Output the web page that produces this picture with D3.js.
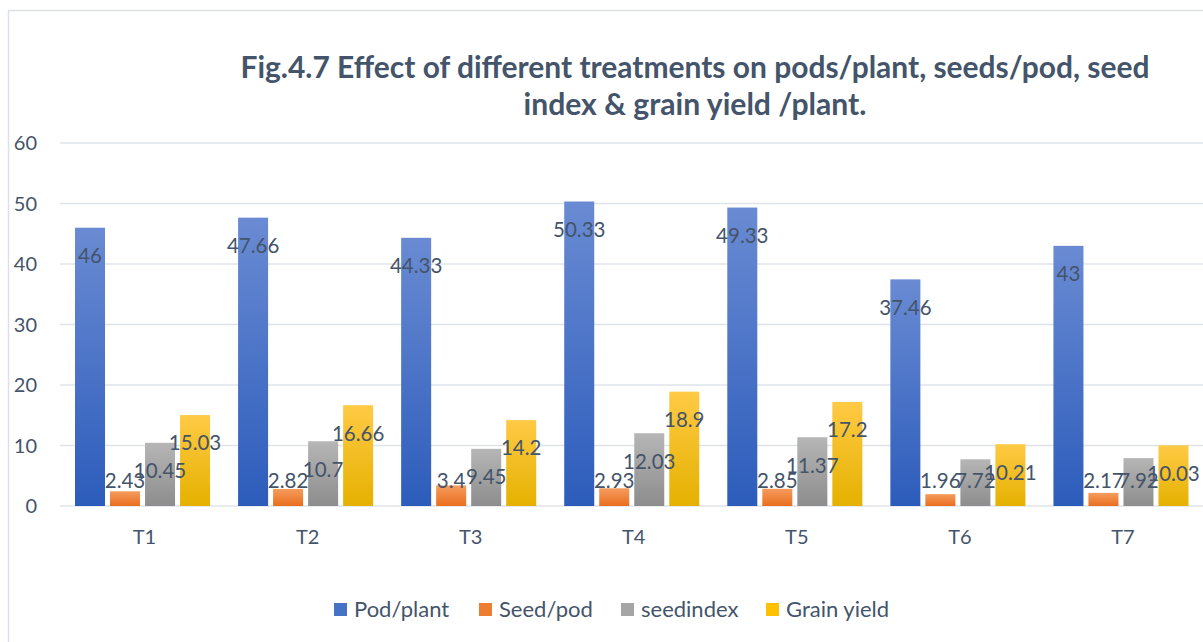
<!DOCTYPE html>
<html>
<head>
<meta charset="utf-8">
<script src="https://cdn.jsdelivr.net/npm/d3@7"></script>
<style>
  body { margin: 0; background: #fff; }
  svg { display: block; font-family: Lato, "Open Sans", sans-serif; }
</style>
</head>
<body>
<div id="chart"></div>
<script>
// data
var treatments = ['T1', 'T2', 'T3', 'T4', 'T5', 'T6', 'T7'];
var seriesNames = ['Pod/plant', 'Seed/pod', 'seedindex', 'Grain yield'];
var podPlant = [46, 47.66, 44.33, 50.33, 49.33, 37.46, 43];
var seedPod = [2.43, 2.82, 3.4, 2.93, 2.85, 1.96, 2.17];
var seedIndex = [10.45, 10.7, 9.45, 12.03, 11.37, 7.72, 7.92];
var grainYield = [15.03, 16.66, 14.2, 18.9, 17.2, 10.21, 10.03];
var yTicks = [0, 10, 20, 30, 40, 50, 60];

var width = 1203, height = 642;
var textColor = '#44546A';
// top / bottom colours of each bar gradient
var colors = [
  ['#6a8bd3', '#2c5cbb'],
  ['#f59c5e', '#e96e1e'],
  ['#b6b6b6', '#8d8d8d'],
  ['#ffca45', '#e5b100']
];
var legendColors = ['#4472c4', '#ed7d31', '#a5a5a5', '#ffc000'];

var allSeries = [podPlant, seedPod, seedIndex, grainYield];

var svg = d3.select('#chart').append('svg')
  .attr('width', width).attr('height', height);

var defs = svg.append('defs');
colors.forEach(function(c, i) {
  var g = defs.append('linearGradient').attr('id', 'grad' + i)
    .attr('x1', 0).attr('y1', 0).attr('x2', 0).attr('y2', 1);
  g.append('stop').attr('offset', '0%').attr('stop-color', c[0]);
  g.append('stop').attr('offset', '100%').attr('stop-color', c[1]);
});

// chart frame
svg.append('rect')
  .attr('x', 8.5).attr('y', 10.5).attr('width', 1300).attr('height', 700)
  .attr('fill', 'none').attr('stroke', '#dde1e6').attr('stroke-width', 1.5);

var x = d3.scaleBand().domain(treatments).range([61, 1202.5])
  .paddingInner(28 / 163).paddingOuter(14 / 163);
var xs = d3.scaleBand().domain(d3.range(seriesNames.length))
  .range([0, x.bandwidth()]).paddingInner(5 / 35);
var y = d3.scaleLinear().domain([0, 60]).range([506, 143]);

// gridlines
svg.append('g').selectAll('line').data(yTicks).enter().append('line')
  .attr('x1', 60).attr('x2', width)
  .attr('y1', function(d) { return y(d); })
  .attr('y2', function(d) { return y(d); })
  .attr('stroke', '#dfe3e8').attr('stroke-width', 1.5);

// y labels
svg.append('g').selectAll('text').data(yTicks).enter().append('text')
  .attr('x', 37).attr('y', function(d) { return y(d); })
  .attr('dy', '0.36em').attr('text-anchor', 'end')
  .attr('font-size', 20).attr('fill', textColor)
  .text(function(d) { return d; });

// x labels
svg.append('g').selectAll('text').data(treatments).enter().append('text')
  .attr('x', function(d) { return x(d) + x.bandwidth() / 2 + 2; })
  .attr('y', 544).attr('text-anchor', 'middle')
  .attr('font-size', 20).attr('fill', textColor)
  .text(function(d) { return d; });

// bars
var groups = svg.append('g').selectAll('g').data(treatments).enter().append('g')
  .attr('transform', function(d) { return 'translate(' + x(d) + ',0)'; });

groups.selectAll('rect').data(function(d, i) {
  return allSeries.map(function(s, k) { return { k: k, v: s[i] }; });
}).enter().append('rect')
  .attr('x', function(d) { return xs(d.k); })
  .attr('y', function(d) { return y(d.v); })
  .attr('width', xs.bandwidth())
  .attr('height', function(d) { return y(0) - y(d.v); })
  .attr('fill', function(d) { return 'url(#grad' + d.k + ')'; });

// data labels, inside end
groups.selectAll('text').data(function(d, i) {
  return allSeries.map(function(s, k) { return { k: k, v: s[i] }; });
}).enter().append('text')
  .attr('x', function(d) { return xs(d.k) + xs.bandwidth() / 2; })
  .attr('y', function(d) { return Math.min(y(d.v) + 28, 481); })
  .attr('dy', '0.36em').attr('text-anchor', 'middle')
  .attr('font-size', 20.5).attr('fill', textColor)
  .text(function(d) { return d.v; });

// title
var title = svg.append('g').attr('fill', textColor)
  .attr('font-weight', 'bold').attr('font-size', 29.5).attr('text-anchor', 'middle');
title.append('text').attr('x', 695).attr('y', 78)
  .attr('textLength', 909).attr('lengthAdjust', 'spacingAndGlyphs')
  .text('Fig.4.7 Effect of different treatments on pods/plant, seeds/pod, seed');
title.append('text').attr('x', 695).attr('y', 115)
  .attr('textLength', 343).attr('lengthAdjust', 'spacingAndGlyphs')
  .text('index & grain yield /plant.');

// legend
var legendX = [334, 479, 621, 766];
var legend = svg.append('g').selectAll('g').data(seriesNames).enter().append('g')
  .attr('transform', function(d, i) { return 'translate(' + legendX[i] + ',603)'; });
legend.append('rect').attr('width', 13).attr('height', 13)
  .attr('fill', function(d, i) { return legendColors[i]; });
legend.append('text').attr('x', 20).attr('y', 6.5).attr('dy', '0.36em')
  .attr('font-size', 22).attr('fill', textColor)
  .text(function(d) { return d; });
</script>
</body>
</html>
